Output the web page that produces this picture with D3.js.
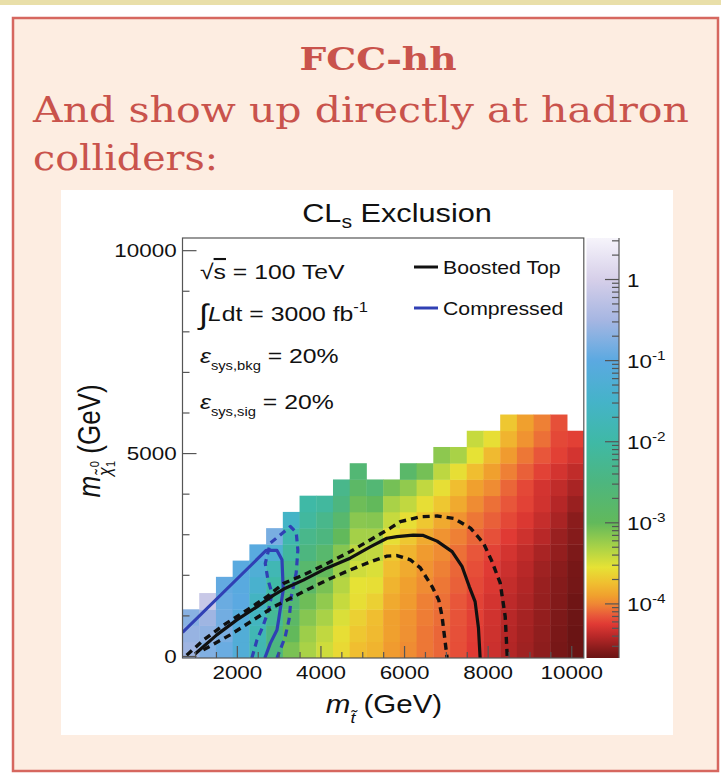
<!DOCTYPE html>
<html><head><meta charset="utf-8">
<script src="https://cdn.jsdelivr.net/npm/d3@7"></script>
<style>
html,body{margin:0;padding:0;background:#fff;}
svg{display:block;}
</style></head>
<body>
<svg id="fig" width="721" height="777"></svg>
<script>
// ---- binning of the scan (GeV) ----
const stopBinLow = [700,1100,1500,1900,2300,2700,3100,3500,3900,4300,4700,5100,
                    5500,5900,6300,6700,7100,7500,7900,8300,8700,9100,9500,9900];
const lspBinLow = [-50,350,750,1150,1550,1950,2350,2750,3150,3550,3950,4350,4750,5150,5550];
const binWidth = 400;

// log10(CLs) per stop-mass column, listed from the lowest neutralino bin upward
const log10CLs = [
  [-0.55,-0.6,-0.7],
  [-0.75,-0.65,-0.55,-0.15],
  [-0.9,-0.8,-0.85,-0.9,-0.95],
  [-1.2,-1.2,-1.15,-1.0,-1.05,-1.05],
  [-1.85,-1.8,-1.65,-1.6,-1.4,-1.25,-1.05],
  [-2.5,-2.45,-2.2,-2.1,-2.0,-1.8,-1.3,-0.8],
  [-3.1,-3.0,-2.85,-2.65,-2.5,-2.35,-2.1,-1.9,-1.55],
  [-3.3,-3.25,-3.15,-3.05,-2.85,-2.75,-2.5,-2.35,-2.1,-2.0],
  [-3.45,-3.4,-3.3,-3.2,-3.1,-3.0,-2.75,-2.5,-2.35,-2.1],
  [-3.6,-3.57,-3.5,-3.42,-3.35,-3.25,-3.15,-3.0,-2.75,-2.5,-2.35],
  [-3.75,-3.7,-3.65,-3.57,-3.55,-3.45,-3.38,-3.28,-3.17,-3.05,-2.85,-2.65],
  [-3.8,-3.77,-3.75,-3.65,-3.57,-3.5,-3.4,-3.28,-3.15,-3.0,-2.65],
  [-3.92,-3.9,-3.9,-3.85,-3.8,-3.75,-3.7,-3.57,-3.42,-3.3,-3.08],
  [-3.98,-3.96,-3.95,-3.92,-3.9,-3.85,-3.8,-3.7,-3.57,-3.4,-3.2,-2.8],
  [-4.05,-4.05,-4.03,-4.02,-3.98,-3.95,-3.92,-3.85,-3.7,-3.57,-3.4,-3.08],
  [-4.1,-4.1,-4.08,-4.07,-4.05,-4.02,-3.98,-3.95,-3.85,-3.7,-3.57,-3.38,-3.18],
  [-4.18,-4.17,-4.16,-4.15,-4.12,-4.1,-4.07,-4.02,-3.95,-3.85,-3.75,-3.57,-3.3],
  [-4.25,-4.24,-4.23,-4.22,-4.2,-4.18,-4.15,-4.1,-4.05,-3.98,-3.9,-3.75,-3.55,-3.42],
  [-4.33,-4.32,-4.31,-4.3,-4.27,-4.25,-4.22,-4.17,-4.12,-4.07,-3.98,-3.9,-3.77,-3.57],
  [-4.42,-4.41,-4.4,-4.38,-4.36,-4.33,-4.3,-4.25,-4.2,-4.15,-4.1,-4.02,-3.92,-3.8,-3.7],
  [-4.48,-4.47,-4.46,-4.44,-4.42,-4.4,-4.37,-4.32,-4.27,-4.22,-4.2,-4.12,-4.05,-3.95,-3.9],
  [-4.54,-4.53,-4.52,-4.51,-4.5,-4.48,-4.45,-4.4,-4.35,-4.31,-4.3,-4.22,-4.15,-4.07,-4.02],
  [-4.62,-4.61,-4.6,-4.58,-4.57,-4.55,-4.52,-4.5,-4.45,-4.41,-4.37,-4.3,-4.23,-4.2,-4.17],
  [-4.68,-4.67,-4.66,-4.65,-4.63,-4.62,-4.6,-4.57,-4.55,-4.5,-4.45,-4.37,-4.3,-4.23]
];

// exclusion contours, [m_stop, m_LSP] in GeV
const boostedTopExp = [[1000,50],[1520,520],[2000,890],[2480,1210],[2880,1500],[3120,1650],
  [3590,1870],[4160,2170],[4710,2410],[5190,2690],[5590,2900],[5830,2940],[6220,2980],
  [6460,2970],[6790,2830],[7150,2570],[7390,2200],[7560,1710],[7700,1340],[7780,690],[7820,-50]];
const boostedTopUp = [[800,20],[1200,390],[1680,760],[2240,1130],[2720,1460],[3120,1790],
  [3600,2000],[4160,2280],[4710,2570],[5190,2860],[5670,3150],[5910,3310],[6390,3430],
  [6790,3450],[7190,3390],[7590,3150],[7900,2780],[8090,2360],[8300,1800],[8420,970],[8470,-50]];
const boostedTopDown = [[1200,150],[1840,520],[2400,890],[2880,1210],[3280,1420],[3760,1670],
  [4240,1910],[4710,2120],[5190,2320],[5590,2460],[5830,2475],[6150,2370],[6390,2170],
  [6670,1710],[6830,1380],[6910,970],[7030,-50]];
const compressedExp = [[700,580],[2700,2600],[2960,2600],[3080,2370],[3110,1630],[3000,890],
  [2960,640],[2800,310],[2670,-50]];
const compressedBand = [[2360,-50],[2480,390],[2620,720],[2760,1130],[2840,1540],[2740,1900],
  [2680,2280],[2800,2780],[3280,3190],[3420,3050],[3460,2610],[3420,2050],[3300,1450],
  [3250,900],[3150,450],[2960,-50]];

// colour palette: log10(value) -> colour
const paletteLog = [0.52,0.0,-0.5,-1.0,-1.5,-2.0,-2.5,-3.0,-3.3,-3.55,-3.75,-3.9,-4.0,-4.15,-4.25,-4.4,-4.55,-4.67];
const paletteCol = ["#f6f4fb","#d6cfe9","#a6b6e2","#5ba9e1","#45b3c9","#3fb9a6","#4db67f","#62b95b",
  "#a9d247","#e6e235","#f0be30","#f0a02e","#ef8734","#e8563a","#e03a34","#b82828","#8a1c1c","#6a1414"];

// axis ticks
const xMajorTicks = [2000,4000,6000,8000,10000];
const yMajorTicks = [0,5000,10000];
const zDecades = [-4,-3,-2,-1,0];

const SX = 1.18;   // horizontal stretch of the figure's lettering
const svg = d3.select("#fig");
const sans = "'Liberation Sans', Arial, Helvetica, sans-serif";
const slab = "'DejaVu Serif', serif";
const red = "#c9534c";

// ---- slide frame ----
svg.append("rect").attr("x",0).attr("y",0).attr("width",721).attr("height",777).attr("fill","#ffffff");
svg.append("rect").attr("x",0).attr("y",0).attr("width",721).attr("height",5).attr("fill","#e9dfa9");
svg.append("rect").attr("x",13).attr("y",18).attr("width",705).attr("height",753)
  .attr("fill","#fdede1").attr("stroke","#d6675f").attr("stroke-width",2.5);

svg.append("text").attr("x",378).attr("y",70).attr("text-anchor","middle")
  .attr("font-family",slab).attr("font-weight","bold").attr("font-size",32).attr("fill",red)
  .attr("textLength",157).attr("lengthAdjust","spacingAndGlyphs").text("FCC-hh");
svg.append("text").attr("x",33).attr("y",122)
  .attr("font-family",slab).attr("font-size",36).attr("fill",red)
  .attr("textLength",656).attr("lengthAdjust","spacingAndGlyphs").text("And show up directly at hadron");
svg.append("text").attr("x",33).attr("y",170)
  .attr("font-family",slab).attr("font-size",36).attr("fill",red)
  .attr("textLength",185).attr("lengthAdjust","spacingAndGlyphs").text("colliders:");

// white figure panel
svg.append("rect").attr("x",61).attr("y",190).attr("width",612).attr("height",545).attr("fill","#ffffff");

// ---- scales ----
const x = d3.scaleLinear().domain([700,10300]).range([182.5,583.8]);
const y = d3.scaleLinear().domain([-50,10300]).range([658,238]);
const color = d3.scaleLinear().domain(paletteLog).range(paletteCol).interpolate(d3.interpolateRgb).clamp(true);
const zMin = -4.667, zMax = 0.512;
const cbX0 = 586.5, cbX1 = 619;
const z = d3.scaleLinear().domain([zMin,zMax]).range([658,238]);

function sText(parent, px, py, anchor, size){
  const g = parent.append("g").attr("transform",`translate(${px},${py}) scale(${SX},1)`);
  return g.append("text").attr("text-anchor",anchor).attr("font-family",sans)
    .attr("font-size",size).attr("fill","#111");
}

const plot = svg.append("g");
plot.append("defs").append("clipPath").attr("id","plotclip").append("rect")
  .attr("x",x.range()[0]).attr("y",y.range()[1])
  .attr("width",x.range()[1]-x.range()[0]).attr("height",y.range()[0]-y.range()[1]);

// ---- heat map cells ----
const cells = [];
log10CLs.forEach((col,i)=>col.forEach((v,j)=>cells.push({xs:stopBinLow[i], ys:lspBinLow[j], v})));
plot.append("g").attr("clip-path","url(#plotclip)").selectAll("rect").data(cells).join("rect")
  .attr("x",d=>x(d.xs)).attr("y",d=>y(d.ys+binWidth))
  .attr("width",d=>x(d.xs+binWidth)-x(d.xs)+0.4)
  .attr("height",d=>y(d.ys)-y(d.ys+binWidth)+0.4)
  .attr("fill",d=>color(d.v));

// ---- contours ----
const line = d3.line().x(d=>x(d[0])).y(d=>y(d[1]));
const cg = plot.append("g").attr("clip-path","url(#plotclip)").attr("fill","none")
  .attr("stroke-linejoin","round");
cg.append("path").attr("d",line(compressedBand)).attr("stroke","#3040b4").attr("stroke-width",3.2).attr("stroke-dasharray","7,5");
cg.append("path").attr("d",line(compressedExp)).attr("stroke","#3040b4").attr("stroke-width",3.2);
cg.append("path").attr("d",line(boostedTopUp)).attr("stroke","#111").attr("stroke-width",3.4).attr("stroke-dasharray","7,5");
cg.append("path").attr("d",line(boostedTopDown)).attr("stroke","#111").attr("stroke-width",3.4).attr("stroke-dasharray","7,5");
cg.append("path").attr("d",line(boostedTopExp)).attr("stroke","#111").attr("stroke-width",3.2);

// ---- frame and axes ----
const axCol = "#555";
plot.append("rect").attr("x",x.range()[0]).attr("y",y.range()[1])
  .attr("width",x.range()[1]-x.range()[0]).attr("height",y.range()[0]-y.range()[1])
  .attr("fill","none").attr("stroke",axCol).attr("stroke-width",1.2);

const xMinor = d3.range(1000,10300,500).filter(v=>!xMajorTicks.includes(v));
const gxMinor = plot.append("g").attr("transform",`translate(0,${y.range()[0]})`)
  .call(d3.axisBottom(x).tickValues(xMinor).tickSize(-6).tickFormat(""));
const gx = plot.append("g").attr("transform",`translate(0,${y.range()[0]})`)
  .call(d3.axisBottom(x).tickValues(xMajorTicks).tickSize(-12).tickPadding(8).tickFormat(d3.format("d")));
const yMinor = d3.range(1000,10300,1000).filter(v=>!yMajorTicks.includes(v));
const gyMinor = plot.append("g").attr("transform",`translate(${x.range()[0]},0)`)
  .call(d3.axisLeft(y).tickValues(yMinor).tickSize(-7).tickFormat(""));
const gy = plot.append("g").attr("transform",`translate(${x.range()[0]},0)`)
  .call(d3.axisLeft(y).tickValues(yMajorTicks).tickSize(-14).tickPadding(5).tickFormat(d3.format("d")));
[gxMinor,gx,gyMinor,gy].forEach(g=>{
  g.select(".domain").remove();
  g.selectAll("line").attr("stroke",axCol).attr("stroke-width",1.2);
  g.selectAll("text").attr("font-family",sans).attr("font-size",19).attr("fill","#111");
});
gx.selectAll("text").attr("transform",`scale(${SX},1)`);
gy.selectAll("text").attr("transform",`scale(${SX},1)`);

// ---- colour bar ----
const grad = svg.append("defs").append("linearGradient").attr("id","cbgrad")
  .attr("x1",0).attr("y1",1).attr("x2",0).attr("y2",0);
paletteLog.slice().reverse().forEach((t,i)=>{
  const k = paletteLog.length-1-i;
  grad.append("stop").attr("offset",(t-zMin)/(zMax-zMin)).attr("stop-color",paletteCol[k]);
});
svg.append("rect").attr("x",cbX0).attr("y",238).attr("width",cbX1-cbX0).attr("height",420)
  .attr("fill","url(#cbgrad)");
svg.append("line").attr("x1",cbX1).attr("x2",cbX1).attr("y1",238).attr("y2",658)
  .attr("stroke",axCol).attr("stroke-width",1.2);
const zMinorVals = [];
[-5,-4,-3,-2,-1,0].forEach(d=>[2,3,4,5,6,7,8,9].forEach(m=>{
  const t = d + Math.log10(m); if (t>zMin && t<zMax) zMinorVals.push(t);
}));
svg.append("g").selectAll("line").data(zMinorVals).join("line")
  .attr("x1",cbX1-7).attr("x2",cbX1).attr("y1",d=>z(d)).attr("y2",d=>z(d))
  .attr("stroke",axCol).attr("stroke-width",1.2);
svg.append("g").selectAll("line").data(zDecades).join("line")
  .attr("x1",cbX1-14).attr("x2",cbX1).attr("y1",d=>z(d)).attr("y2",d=>z(d))
  .attr("stroke",axCol).attr("stroke-width",1.2);
zDecades.forEach(d=>{
  const t = sText(svg, 627, z(d)+7, "start", 19);
  if (d===0) t.text("1");
  else { t.text("10"); t.append("tspan").attr("dy",-8).attr("font-size",13).text(String(d)); }
});

// ---- titles ----
{
  const t = sText(svg, 397, 222, "middle", 26);
  t.append("tspan").text("CL");
  t.append("tspan").attr("dy",6).attr("font-size",18).text("s");
  t.append("tspan").attr("dy",-6).text(" Exclusion");
}
{
  const t = sText(svg, 384, 713, "middle", 25);
  t.append("tspan").attr("font-style","italic").text("m");
  t.append("tspan").attr("dy",10).attr("font-size",15).attr("font-style","italic").text("t\u0303");
  t.append("tspan").attr("dy",-10).text(" (GeV)");
}
{
  const g = svg.append("g").attr("transform",`translate(100,441) scale(${SX},1) rotate(-90)`);
  const t = g.append("text").attr("text-anchor","middle").attr("font-family",sans)
    .attr("font-size",26).attr("fill","#111");
  t.append("tspan").attr("font-style","italic").text("m");
  t.append("tspan").attr("dy",9).attr("font-size",16).attr("font-style","italic").text("\u03c7\u0303");
  t.append("tspan").attr("dy",-10).attr("font-size",11).text("0");
  t.append("tspan").attr("dx",-6).attr("dy",14).attr("font-size",11).text("1");
  t.append("tspan").attr("dy",-13).text(" (GeV)");
}

// ---- annotation text ----
{
  const t = sText(svg, 200, 279, "start", 21);
  t.append("tspan").text("\u221a");
  t.append("tspan").attr("text-decoration","overline").text("s");
  t.append("tspan").text(" = 100 TeV");
}
{
  const t = sText(svg, 199, 321, "start", 21);
  t.append("tspan").attr("font-size",28).attr("dy",3).text("\u222b");
  t.append("tspan").attr("dy",-3).attr("font-style","italic").text("L");
  t.append("tspan").text("dt = 3000 fb");
  t.append("tspan").attr("dy",-9).attr("font-size",14).text("-1");
}
{
  const t = sText(svg, 200, 363, "start", 21);
  t.append("tspan").attr("font-style","italic").text("\u03b5");
  t.append("tspan").attr("dy",7).attr("font-size",12.5).text("sys,bkg");
  t.append("tspan").attr("dy",-7).text(" = 20%");
}
{
  const t = sText(svg, 200, 409, "start", 21);
  t.append("tspan").attr("font-style","italic").text("\u03b5");
  t.append("tspan").attr("dy",7).attr("font-size",12.5).text("sys,sig");
  t.append("tspan").attr("dy",-7).text(" = 20%");
}

// ---- legend ----
const legend = [["Boosted Top","#111",267],["Compressed","#3040b4",308]];
legend.forEach(([label,c,ly])=>{
  svg.append("line").attr("x1",414).attr("x2",438).attr("y1",ly).attr("y2",ly)
    .attr("stroke",c).attr("stroke-width",3);
  sText(svg, 443, ly+7, "start", 18).text(label);
});
</script>
</body></html>
